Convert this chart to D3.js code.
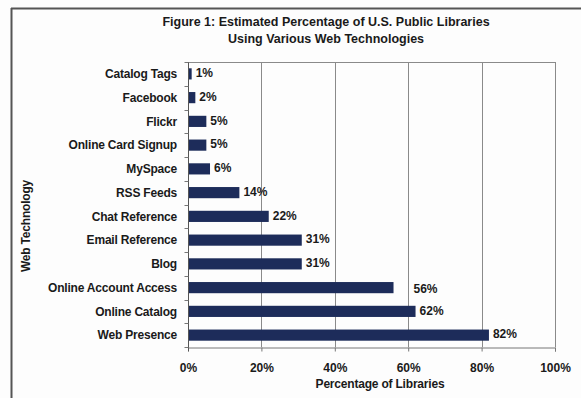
<!DOCTYPE html>
<html>
<head>
<meta charset="utf-8">
<script src="https://cdn.jsdelivr.net/npm/d3@7/dist/d3.min.js"></script>
<style>
  html, body { margin: 0; padding: 0; background: #fdfdfd; }
  svg { display: block; }
  text { font-family: "Liberation Sans", Arial, sans-serif; font-weight: bold; fill: #1a1a1a; }
</style>
</head>
<body>
<svg id="chart" width="581" height="398"></svg>
<script>
const categories = ["Catalog Tags", "Facebook", "Flickr", "Online Card Signup", "MySpace", "RSS Feeds",
  "Chat Reference", "Email Reference", "Blog", "Online Account Access", "Online Catalog", "Web Presence"];
const values = [1, 2, 5, 5, 6, 14, 22, 31, 31, 56, 62, 82];
const xTicks = [0, 20, 40, 60, 80, 100];
const titleLines = ["Figure 1: Estimated Percentage of U.S. Public Libraries", "Using Various Web Technologies"];
const xTitle = "Percentage of Libraries";
const yTitle = "Web Technology";

const svg = d3.select("#chart");
const W = 581, H = 398;
const m = { left: 188, right: 555, top: 62, bottom: 347 };

svg.append("rect").attr("width", W).attr("height", H).attr("fill", "#fdfdfd");
// frame (top and left edges visible)
svg.append("line").attr("x1", 11).attr("x2", W).attr("y1", 8.5).attr("y2", 8.5)
  .attr("stroke", "#555").attr("stroke-width", 2);
svg.append("line").attr("x1", 11.5).attr("x2", 11.5).attr("y1", 8).attr("y2", H)
  .attr("stroke", "#555").attr("stroke-width", 2);

const x = d3.scaleLinear().domain([0, 100]).range([m.left, m.right]);
const y = d3.scaleBand().domain(categories).range([m.top, m.bottom])
  .paddingInner(0.53).paddingOuter(0.265);

// plot frame top
svg.append("line").attr("x1", m.left).attr("x2", m.right).attr("y1", m.top + 0.5).attr("y2", m.top + 0.5)
  .attr("stroke", "#8a8a8a");

// gridlines
svg.append("g").selectAll("line").data(xTicks.filter(d => d > 0)).join("line")
  .attr("x1", d => Math.round(x(d)) + 0.5).attr("x2", d => Math.round(x(d)) + 0.5)
  .attr("y1", m.top).attr("y2", m.bottom)
  .attr("stroke", "#8a8a8a");

// x axis
const xAxis = svg.append("g").attr("transform", `translate(0,${m.bottom + 0.5})`)
  .call(d3.axisBottom(x).tickValues(xTicks).tickFormat(d => d + "%").tickSize(4).tickPadding(12));
xAxis.select(".domain").attr("stroke", "#777");
xAxis.selectAll(".tick line").attr("stroke", "#777");
xAxis.selectAll(".tick text").attr("font-size", 12).attr("fill", "#1a1a1a")
  .attr("font-family", '"Liberation Sans", Arial, sans-serif').attr("font-weight", "bold");

// bars
svg.append("g").selectAll("rect").data(categories).join("rect")
  .attr("x", x(0)).attr("y", d => y(d))
  .attr("width", (d, i) => x(values[i]) - x(0))
  .attr("height", y.bandwidth())
  .attr("fill", "#1d2c5a");

// y axis
const yAxisG = svg.append("g").attr("transform", `translate(${m.left + 0.5},0)`);
yAxisG.append("line").attr("y1", m.top).attr("y2", m.bottom + 4).attr("stroke", "#555");
const bounds = d3.range(categories.length + 1).map(i => m.top + i * y.step());
yAxisG.selectAll("line.tk").data(bounds).join("line").attr("class", "tk")
  .attr("x1", -4).attr("x2", 0).attr("y1", d => Math.round(d) + 0.5).attr("y2", d => Math.round(d) + 0.5)
  .attr("stroke", "#777");

// category labels
svg.append("g").selectAll("text").data(categories).join("text")
  .attr("x", 177).attr("y", d => y(d) + y.bandwidth() / 2)
  .attr("dy", "0.35em").attr("text-anchor", "end").attr("font-size", 12)
  .attr("letter-spacing", -0.2)
  .text(d => d);

// value labels
const labelShift = { "Online Account Access": [16, 2] };
svg.append("g").selectAll("text").data(categories).join("text")
  .attr("x", (d, i) => x(values[i]) + 4 + (labelShift[d] ? labelShift[d][0] : 0))
  .attr("y", d => y(d) + y.bandwidth() / 2 + (labelShift[d] ? labelShift[d][1] : 0) - 1)
  .attr("dy", "0.35em").attr("font-size", 12)
  .text((d, i) => values[i] + "%");

// titles
svg.append("g").selectAll("text").data(titleLines).join("text")
  .attr("x", 326).attr("y", (d, i) => 26 + i * 17)
  .attr("text-anchor", "middle").attr("font-size", 12.5)
  .text(d => d);

svg.append("text").attr("x", 380).attr("y", 388).attr("text-anchor", "middle")
  .attr("font-size", 12).attr("letter-spacing", -0.2).text(xTitle);

svg.append("text").attr("transform", "translate(30,226) rotate(-90)")
  .attr("text-anchor", "middle").attr("font-size", 12).attr("letter-spacing", -0.2).text(yTitle);
</script>
</body>
</html>
